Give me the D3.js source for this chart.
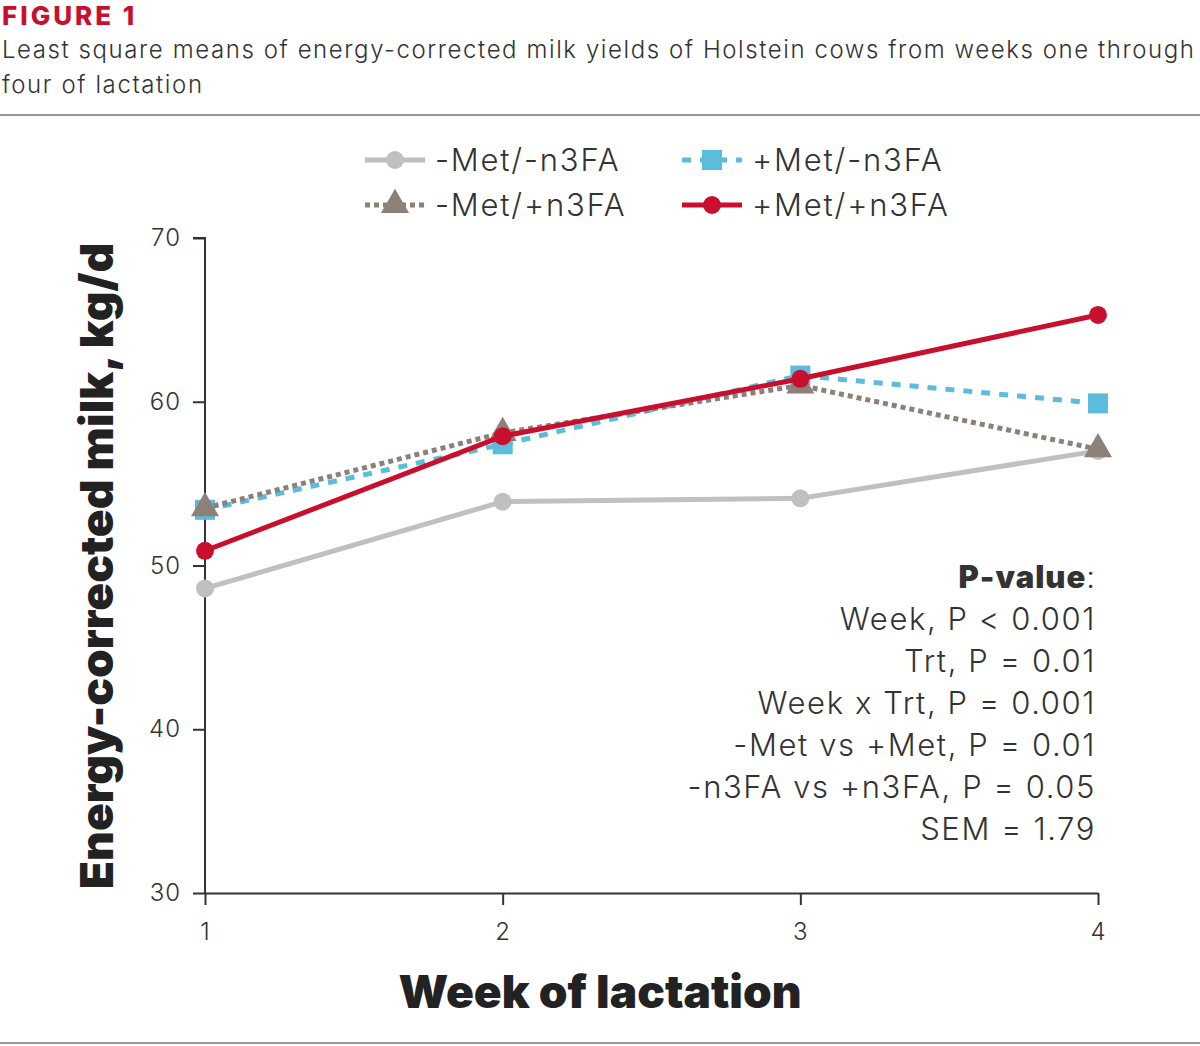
<!DOCTYPE html>
<html><head><meta charset="utf-8">
<script src="https://cdn.jsdelivr.net/npm/d3@7"></script>
<style>
body{margin:0;background:#fff;}
svg{display:block;font-family:Inter,"Open Sans",sans-serif;}
</style></head>
<body><svg id="c" width="1200" height="1046"></svg>
<script>
const weeks = [1, 2, 3, 4];
const seriesNames = ["-Met/-n3FA", "+Met/-n3FA", "-Met/+n3FA", "+Met/+n3FA"];
const metMinusN3Minus = [48.6, 53.9, 54.1, 57.0];
const metPlusN3Minus = [53.4, 57.4, 61.6, 59.9];
const metMinusN3Plus = [53.5, 58.1, 61.0, 57.1];
const metPlusN3Plus = [50.9, 57.9, 61.4, 65.3];
const yTicks = [30, 40, 50, 60, 70];
const pLines = ["Week, P < 0.001", "Trt, P = 0.01", "Week x Trt, P = 0.001", "-Met vs +Met, P = 0.01", "-n3FA vs +n3FA, P = 0.05", "SEM = 1.79"];

const styles = [
  {color:"#c0c0c0", dash:null, width:5, marker:"circle"},
  {color:"#5bbcdc", dash:"9,9", width:5, marker:"square"},
  {color:"#8c8079", dash:"5,4", width:5, marker:"triangle"},
  {color:"#c8102e", dash:null, width:5, marker:"circle"}
];
const data = [metMinusN3Minus, metPlusN3Minus, metMinusN3Plus, metPlusN3Plus];

const svg = d3.select("#c");
svg.append("text").attr("x",2).attr("y",25).attr("fill","#c8102e").attr("font-size",26).attr("font-weight",800).attr("letter-spacing",3).text("FIGURE 1");
svg.append("text").attr("x",2).attr("y",58).attr("fill","#333").attr("font-size",24).attr("font-weight",300)
  .attr("textLength",1192).attr("lengthAdjust","spacing").text("Least square means of energy-corrected milk yields of Holstein cows from weeks one through");
svg.append("text").attr("x",2).attr("y",93).attr("fill","#333").attr("font-size",24).attr("font-weight",300)
  .attr("textLength",200).attr("lengthAdjust","spacing").text("four of lactation");
svg.append("line").attr("x1",0).attr("x2",1200).attr("y1",115).attr("y2",115).attr("stroke","#999").attr("stroke-width",2);
svg.append("line").attr("x1",0).attr("x2",1200).attr("y1",1043).attr("y2",1043).attr("stroke","#999").attr("stroke-width",2);

const x = d3.scaleLinear().domain([1,4]).range([205,1098]);
const y = d3.scaleLinear().domain([30,70]).range([893,238]);

const yAxis = svg.append("g").attr("transform","translate(205,0)")
  .call(d3.axisLeft(y).tickValues(yTicks).tickSize(12).tickSizeOuter(12).tickPadding(12));
const xAxis = svg.append("g").attr("transform","translate(0,893)")
  .call(d3.axisBottom(x).tickValues(weeks).tickFormat(d3.format("d")).tickSize(12).tickSizeOuter(0).tickPadding(18));
[yAxis,xAxis].forEach(a=>{
  a.selectAll("path,line").attr("stroke","#333").attr("stroke-width",2);
  a.selectAll("text").attr("font-size",24).attr("font-weight",300).attr("fill","#333").attr("font-family","Inter,sans-serif").attr("letter-spacing",1);
});
yAxis.select(".domain").attr("d","M-12,238H0V893");

svg.append("text").attr("x",600).attr("y",1008).attr("text-anchor","middle").attr("font-size",46).attr("font-weight",900).attr("fill","#222").text("Week of lactation");
svg.append("text").attr("transform","translate(113,566) rotate(-90)").attr("text-anchor","middle").attr("font-size",46).attr("font-weight",900).attr("fill","#222").text("Energy-corrected milk, kg/d");

const line = d3.line().x((d,i)=>x(weeks[i])).y(d=>y(d));
function drawMarker(g, type, cx, cy, color){
  if(type==="circle") g.append("circle").attr("cx",cx).attr("cy",cy).attr("r",9).attr("fill",color);
  else if(type==="square") g.append("rect").attr("x",cx-10).attr("y",cy-10).attr("width",20).attr("height",20).attr("fill",color);
  else g.append("path").attr("d",d3.symbol().type(d3.symbolTriangle).size(340)()).attr("transform",`translate(${cx},${cy})`).attr("fill",color);
}
[0,1,2,3].forEach(k=>{
  const s = styles[k];
  const g = svg.append("g");
  g.append("path").attr("d",line(data[k])).attr("fill","none").attr("stroke",s.color).attr("stroke-width",s.width).attr("stroke-dasharray",s.dash);
  data[k].forEach((v,i)=>drawMarker(g,s.marker,x(weeks[i]),y(v),s.color));
});

// legend
const legendPos = [[365,160],[682,160],[365,205],[682,205]];
seriesNames.forEach((n,k)=>{
  const [lx,ly] = legendPos[k]; const s = styles[k];
  const g = svg.append("g");
  g.append("line").attr("x1",lx).attr("x2",lx+60).attr("y1",ly).attr("y2",ly).attr("stroke",s.color).attr("stroke-width",5).attr("stroke-dasharray",s.dash);
  drawMarker(g,s.marker,lx+30,ly,s.color);
  g.append("text").attr("x",lx+70).attr("y",ly+11).attr("font-size",31).attr("font-weight",300).attr("fill","#333").attr("letter-spacing",1.8).text(n);
});

// p-values
const pg = svg.append("g").attr("text-anchor","end").attr("fill","#333");
const pt = pg.append("text").attr("x",1096).attr("y",588).attr("font-size",31).attr("letter-spacing",1);
pt.append("tspan").attr("font-weight",900).text("P-value");
pt.append("tspan").attr("font-weight",300).text(":");
pLines.forEach((t,i)=>pg.append("text").attr("x",1096).attr("y",630+i*42).attr("font-size",31).attr("font-weight",300).attr("letter-spacing",1.6).text(t));
</script></body></html>
